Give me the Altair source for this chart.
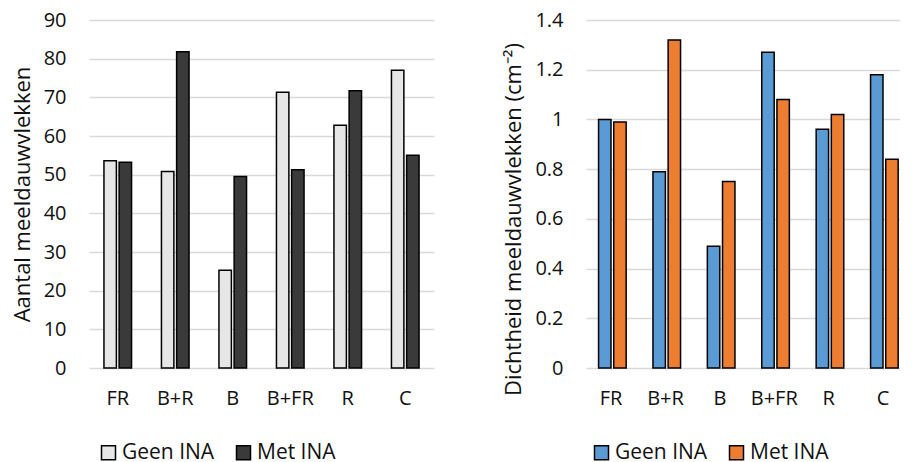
import altair as alt
import pandas as pd

categories = ["FR", "B+R", "B", "B+FR", "R", "C"]
series = ["Geen INA", "Met INA"]

aantal_geen = [53.6, 50.8, 25.3, 71.3, 62.8, 77.0]
aantal_met = [53.2, 81.8, 49.5, 51.3, 71.7, 55.0]

dicht_geen = [1.00, 0.79, 0.49, 1.27, 0.96, 1.18]
dicht_met = [0.99, 1.32, 0.75, 1.08, 1.02, 0.84]

left_ticks = [0, 10, 20, 30, 40, 50, 60, 70, 80, 90]
right_ticks = [0, 0.2, 0.4, 0.6, 0.8, 1.0, 1.2, 1.4]


def long(geen, met):
    rows = []
    for c, g, m in zip(categories, geen, met):
        rows.append({"cat": c, "serie": series[0], "value": g})
        rows.append({"cat": c, "serie": series[1], "value": m})
    return pd.DataFrame(rows)


df_left = long(aantal_geen, aantal_met)
df_right = long(dicht_geen, dicht_met)

FONT = "Open Sans"
TXT = "#111111"


def panel(df, ticks, ymax, title, colors, xscale, legend_x, width, fmt, title_y=None):
    yaxis_kwargs = dict(
        values=ticks, title=title, domain=False, ticks=False, format=fmt,
        labelPadding=23, labelFontSize=20, labelColor=TXT, labelFont=FONT,
        titleFontSize=22, titleFont=FONT, titleFontWeight="normal", titleColor=TXT,
        titlePadding=9, gridColor="#d9d9d9", gridWidth=1.5,
    )
    if title_y is not None:
        yaxis_kwargs["titleY"] = title_y
    return alt.Chart(df).mark_bar(stroke="black", strokeWidth=1.5).encode(
        x=alt.X("cat:N", sort=categories, scale=xscale,
                axis=alt.Axis(title=None, labelAngle=0, domain=False, ticks=False,
                              grid=False, labelPadding=20, labelFontSize=20,
                              labelColor=TXT, labelFont=FONT)),
        xOffset=alt.XOffset("serie:N", sort=series,
                            scale=alt.Scale(paddingInner=0.18, paddingOuter=0)),
        y=alt.Y("value:Q", scale=alt.Scale(domain=[0, ymax], nice=False),
                axis=alt.Axis(**yaxis_kwargs)),
        color=alt.Color("serie:N", sort=series,
                        scale=alt.Scale(domain=series, range=colors),
                        legend=alt.Legend(orient="none", legendX=legend_x, legendY=422,
                                          direction="horizontal", title=None,
                                          symbolType="square", symbolSize=196,
                                          symbolStrokeColor="black", symbolStrokeWidth=1.5,
                                          labelFontSize=21, labelFont=FONT, labelColor=TXT,
                                          labelOffset=3, columnPadding=18, padding=0)),
    ).properties(width=width, height=348)


left = panel(df_left, left_ticks, 90, "Aantal meeldauwvlekken",
             ["#e6e6e6", "#3a3a3a"],
             alt.Scale(paddingInner=0.52, paddingOuter=0.26), 9, 345, "d")
right = panel(df_right, right_ticks, 1.4, "Dichtheid meeldauwvlekken (cm⁻²)",
              ["#5b9bd5", "#ed7d31"],
              alt.Scale(paddingInner=0.54, paddingOuter=0.156, align=0.74), 5, 314,
              ".1~f", title_y=199)

chart = alt.hconcat(left, right, spacing=68).resolve_scale(
    color="independent"
).resolve_legend(color="independent").properties(
    padding={"left": 3, "top": 2, "right": 0, "bottom": 0}
).configure_view(stroke=None)

chart.save("out.html", embed_options={"renderer": "svg", "actions": False})
